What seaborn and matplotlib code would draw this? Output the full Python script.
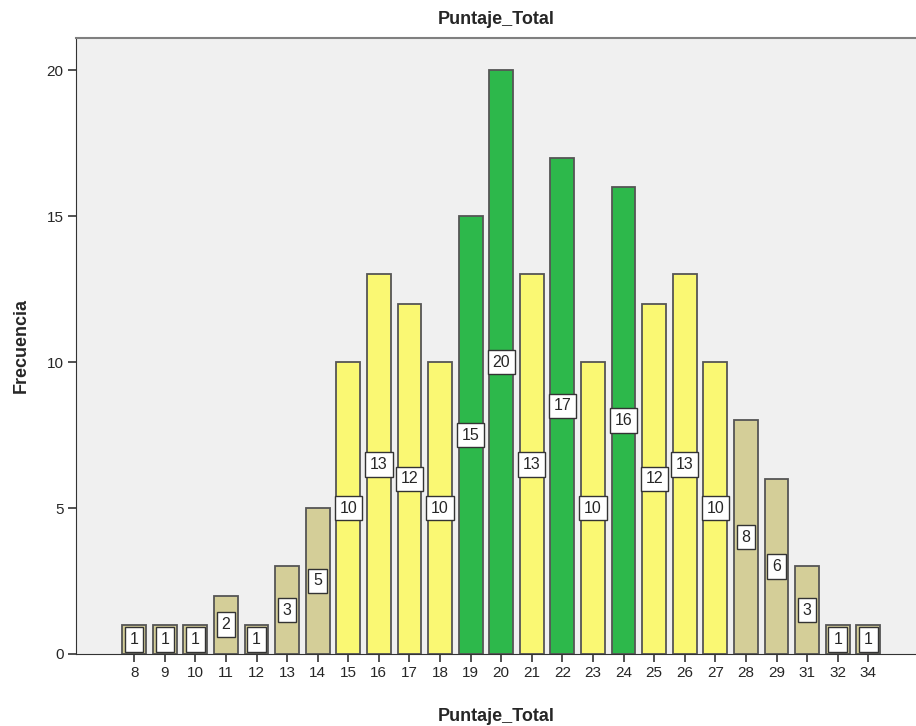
import matplotlib
matplotlib.use("Agg")
import matplotlib.pyplot as plt
import seaborn as sns
import pandas as pd

categories = ["8", "9", "10", "11", "12", "13", "14", "15", "16", "17", "18", "19", "20",
              "21", "22", "23", "24", "25", "26", "27", "28", "29", "31", "32", "34"]
counts = [1, 1, 1, 2, 1, 3, 5, 10, 13, 12, 10, 15, 20, 13, 17, 10, 16, 12, 13, 10, 8, 6, 3, 1, 1]
groups = ["low"] * 7 + ["mid"] * 4 + ["high", "high", "mid", "high", "mid", "high"] + ["mid"] * 3 + ["low"] * 5
palette = {"low": "#D4CE98", "mid": "#FAF873", "high": "#2DB84B"}
yticks = [0, 5, 10, 15, 20]

df = pd.DataFrame({"Puntaje_Total": categories, "Frecuencia": counts, "grp": groups})

sns.set_style("ticks")
plt.rcParams["font.family"] = ["Liberation Sans", "DejaVu Sans"]

fig = plt.figure(figsize=(9.16, 7.26), dpi=100)
ax = fig.add_axes([0.083, 0.0992, 0.917, 0.8485])
sns.barplot(data=df, x="Puntaje_Total", y="Frecuencia", hue="grp", palette=palette,
            dodge=False, width=0.78, edgecolor="#555555", linewidth=1.3, saturation=1,
            order=categories, legend=False, ax=ax)

ax.set_facecolor("#F0F0F0")
ax.set_xlim(-1.9, 25.56)
ax.set_ylim(0, 21.1)
ax.set_yticks(yticks)
ax.set_yticklabels([str(t) for t in yticks])
ax.spines["right"].set_visible(False)
ax.spines["top"].set_visible(True)
ax.spines["top"].set_color("#808080")
ax.spines["top"].set_linewidth(1.5)
ax.spines["left"].set_color("#333333")
ax.spines["bottom"].set_color("#333333")
ax.tick_params(axis="both", direction="out", length=6, width=1.2, color="#333333",
               labelsize=11, bottom=True, left=True, pad=3)

for i, v in enumerate(counts):
    ax.text(i, v / 2, str(v), ha="center", va="center", fontsize=11.5,
            bbox=dict(boxstyle="square,pad=0.3", facecolor="white", edgecolor="#333333", linewidth=1))

ax.set_xlabel("Puntaje_Total", fontsize=13, fontweight="bold", labelpad=20)
ax.set_ylabel("Frecuencia", fontsize=13, fontweight="bold", labelpad=12)
ax.set_title("Puntaje_Total", fontsize=13, fontweight="bold", pad=10)

fig.savefig("out.png", dpi=100)
